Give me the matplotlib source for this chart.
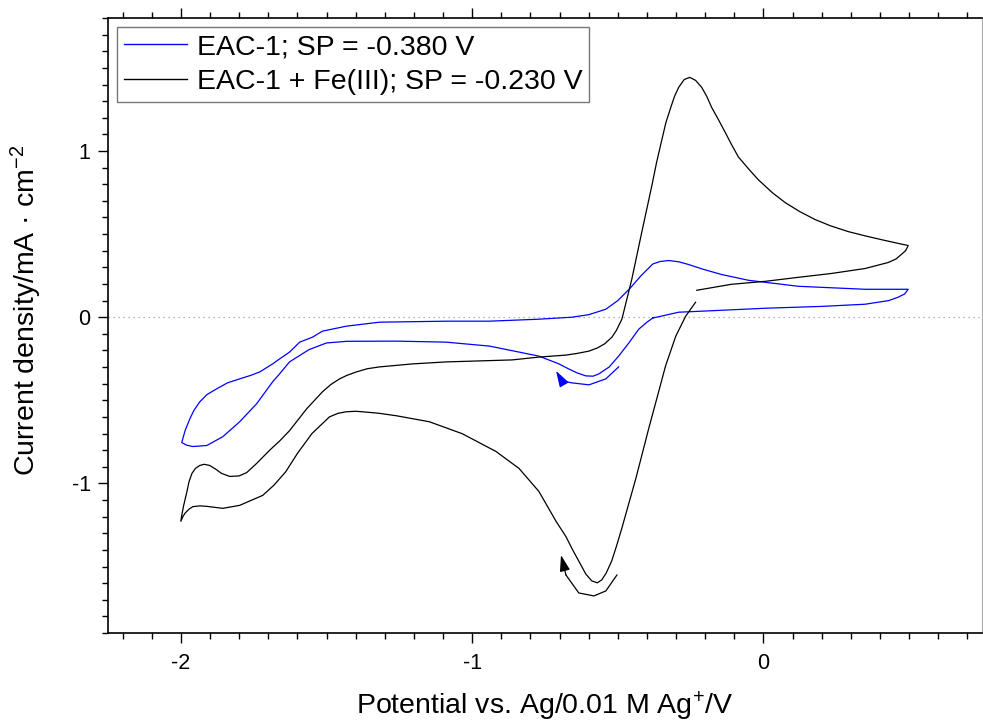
import matplotlib
matplotlib.use("Agg")
import matplotlib.pyplot as plt
from matplotlib.ticker import MultipleLocator
from matplotlib.patches import FancyArrowPatch

plt.rcParams['font.family'] = ['Liberation Sans', 'DejaVu Sans']
plt.rcParams['mathtext.fontset'] = 'custom'
plt.rcParams['mathtext.rm'] = 'Liberation Sans'
plt.rcParams['mathtext.it'] = 'Liberation Sans:italic'
plt.rcParams['axes.unicode_minus'] = False

# ---------------- data ----------------
fe_label = "EAC-1 + Fe(III); SP = -0.230 V"
eac_label = "EAC-1; SP = -0.380 V"

# EAC-1 + Fe(III): potential (V) and current density (mA/cm2), along the scan
fe_E = [-0.229, -0.110, 0.007, 0.120, 0.233, 0.349, 0.428, 0.455, 0.473, 0.488, 0.497,
        0.450, 0.404, 0.350, 0.291, 0.230, 0.178, 0.125, 0.075, 0.030, -0.017,
        -0.050, -0.086, -0.110, -0.130, -0.155, -0.178, -0.195, -0.212, -0.233,
        -0.253, -0.272, -0.291, -0.305, -0.318, -0.335, -0.349, -0.367, -0.384,
        -0.418, -0.452, -0.486, -0.505, -0.520, -0.545, -0.570, -0.599, -0.640,
        -0.678, -0.771, -0.863, -0.976, -1.089, -1.205, -1.318, -1.360, -1.397,
        -1.430, -1.455, -1.485, -1.514, -1.568, -1.627, -1.661, -1.695, -1.740,
        -1.774, -1.800, -1.832, -1.860, -1.880, -1.901, -1.920, -1.935, -1.950,
        -1.962, -1.972, -1.979, -1.990, -1.997, -2.000,
        -1.993, -1.986, -1.972, -1.959, -1.935, -1.911, -1.856, -1.798, -1.719,
        -1.680, -1.640, -1.600, -1.550, -1.490, -1.460, -1.432, -1.400, -1.377,
        -1.320, -1.260, -1.147, -1.034, -0.918, -0.839, -0.771, -0.712, -0.678,
        -0.655, -0.634, -0.610, -0.589, -0.570, -0.555, -0.540, -0.521, -0.505,
        -0.486, -0.438, -0.394, -0.360, -0.336, -0.301, -0.267, -0.233]
fe_j = [0.162, 0.198, 0.216, 0.240, 0.263, 0.293, 0.329, 0.350, 0.377, 0.400, 0.431,
        0.449, 0.467, 0.489, 0.515, 0.550, 0.587, 0.635, 0.689, 0.750, 0.826,
        0.890, 0.964, 1.040, 1.108, 1.190, 1.263, 1.330, 1.383, 1.425,
        1.443, 1.430, 1.383, 1.330, 1.263, 1.170, 1.066, 0.930, 0.784,
        0.509, 0.228, -0.012, -0.080, -0.120, -0.160, -0.185, -0.204, -0.218,
        -0.228, -0.240, -0.257, -0.263, -0.269, -0.281, -0.299, -0.310, -0.329,
        -0.350, -0.371, -0.405, -0.449, -0.551, -0.683, -0.745, -0.800, -0.880,
        -0.935, -0.955, -0.958, -0.940, -0.915, -0.892, -0.885, -0.892, -0.910,
        -0.940, -0.990, -1.048, -1.130, -1.192, -1.228,
        -1.200, -1.180, -1.155, -1.140, -1.135, -1.138, -1.150, -1.132, -1.072,
        -1.010, -0.930, -0.820, -0.700, -0.600, -0.578, -0.569, -0.566, -0.569,
        -0.578, -0.593, -0.629, -0.701, -0.808, -0.910, -1.048, -1.228, -1.320,
        -1.400, -1.467, -1.545, -1.587, -1.598, -1.580, -1.540, -1.467, -1.380,
        -1.269, -0.970, -0.671, -0.450, -0.293, -0.114, 0.006, 0.090]

# EAC-1 alone
eac_E = [-0.380, -0.291, -0.164, 0.007, 0.200, 0.349, 0.430, 0.462, 0.485, 0.497,
         0.450, 0.349, 0.120, -0.051, -0.144, -0.210, -0.257, -0.290, -0.325,
         -0.355, -0.380, -0.420, -0.460, -0.500, -0.541, -0.600, -0.658, -0.771,
         -0.942, -1.089, -1.318, -1.432, -1.514, -1.548, -1.592, -1.627, -1.661,
         -1.685, -1.729, -1.760, -1.798, -1.840, -1.877, -1.910, -1.935, -1.955,
         -1.969, -1.985, -1.997,
         -1.980, -1.959, -1.911, -1.856, -1.798, -1.740, -1.685, -1.661, -1.627,
         -1.560, -1.500, -1.430, -1.260, -1.090, -0.940, -0.805, -0.771, -0.702,
         -0.670, -0.640, -0.610, -0.585, -0.565, -0.530, -0.497, -0.460, -0.428,
         -0.400, -0.380]
eac_j = [-0.005, 0.030, 0.040, 0.054, 0.065, 0.078, 0.100, 0.120, 0.140, 0.168,
         0.168, 0.168, 0.186, 0.222, 0.257, 0.290, 0.317, 0.333, 0.341,
         0.335, 0.320, 0.250, 0.170, 0.100, 0.048, 0.015, 0.000, -0.012,
         -0.024, -0.024, -0.030, -0.054, -0.084, -0.120, -0.150, -0.210, -0.251,
         -0.281, -0.329, -0.350, -0.371, -0.395, -0.431, -0.465, -0.509, -0.560,
         -0.611, -0.680, -0.754,
         -0.770, -0.778, -0.772, -0.719, -0.629, -0.521, -0.389, -0.341, -0.269,
         -0.195, -0.155, -0.145, -0.144, -0.150, -0.174, -0.222, -0.234, -0.281,
         -0.310, -0.335, -0.353, -0.355, -0.341, -0.300, -0.234, -0.150, -0.072,
         -0.030, -0.005]

# scan-direction arrows (curve points, last pair = arrow tip)
fe_arrow_E = [-0.503, -0.541, -0.582, -0.634, -0.678, -0.695]
fe_arrow_j = [-1.551, -1.647, -1.677, -1.659, -1.551, -1.431]
eac_arrow_E = [-0.497, -0.541, -0.599, -0.658, -0.692, -0.712]
eac_arrow_j = [-0.299, -0.371, -0.407, -0.395, -0.383, -0.323]

xticks = [-2, -1, 0]
yticks = [-1, 0, 1]
xlabel = "Potential vs. Ag/0.01 M Ag$^{+}$/V"
ylabel = "Current density/mA · cm$^{-2}$"

# ---------------- figure ----------------
fig = plt.figure(figsize=(9.83, 7.24), dpi=100)
ax = fig.add_axes([0.1099, 0.1257, 0.889, 0.8494])

blue = '#0000ff'
ax.axhline(0, color='#a0a0a0', lw=0.9, ls=(0, (1, 3)), zorder=1)
ax.plot(eac_E, eac_j, color=blue, lw=0.9, label=eac_label, zorder=3)
ax.plot(fe_E, fe_j, color='black', lw=0.9, label=fe_label, zorder=3)

for Es, js, c in [(eac_arrow_E, eac_arrow_j, blue), (fe_arrow_E, fe_arrow_j, 'black')]:
    ax.plot(Es[:-1], js[:-1], color=c, lw=0.9, zorder=3)
    ar = FancyArrowPatch((Es[-2], js[-2]), (Es[-1], js[-1]),
                         arrowstyle='-|>,head_length=0.7,head_width=0.22',
                         mutation_scale=14, color=c,
                         lw=0.9, shrinkA=0, shrinkB=0, zorder=4)
    ax.add_patch(ar)

ax.set_xlim(-2.25, 0.75)
ax.set_ylim(-1.9, 1.8)
ax.set_xticks(xticks)
ax.set_yticks(yticks)
ax.xaxis.set_minor_locator(MultipleLocator(0.1))
ax.yaxis.set_minor_locator(MultipleLocator(0.1))
ax.tick_params(axis='both', which='both', direction='out', width=1.0,
               labelsize=15.5, colors='black')
ax.tick_params(axis='x', which='both', top=True, bottom=True, labeltop=False)
ax.tick_params(axis='y', which='both', left=True, right=False)
ax.tick_params(which='major', length=7.5)
ax.tick_params(which='minor', length=4)
ax.tick_params(axis='x', which='major', pad=7)
ax.tick_params(axis='y', which='major', pad=5)

for s in ['left', 'bottom', 'top']:
    ax.spines[s].set_linewidth(1.2)
    ax.spines[s].set_color('black')
ax.spines['right'].set_linewidth(0.8)
ax.spines['right'].set_color('#aaaaaa')

ax.set_xlabel(xlabel, fontsize=20.5)
ax.set_ylabel(ylabel, fontsize=20.5)
ax.xaxis.set_label_coords(0.5, -0.093)
ax.yaxis.set_label_coords(-0.073, 0.525)

leg = ax.legend(loc='upper left', bbox_to_anchor=(0.0103, 0.985),
                fontsize=20.5, frameon=True, fancybox=False,
                borderaxespad=0, borderpad=0.25, labelspacing=0.3,
                handlelength=2.2, handletextpad=0.35)
leg.get_frame().set_edgecolor('#555555')
leg.get_frame().set_linewidth(1.0)
for l in leg.get_lines():
    l.set_linewidth(1.0)

fig.savefig('out.png', dpi=100)
